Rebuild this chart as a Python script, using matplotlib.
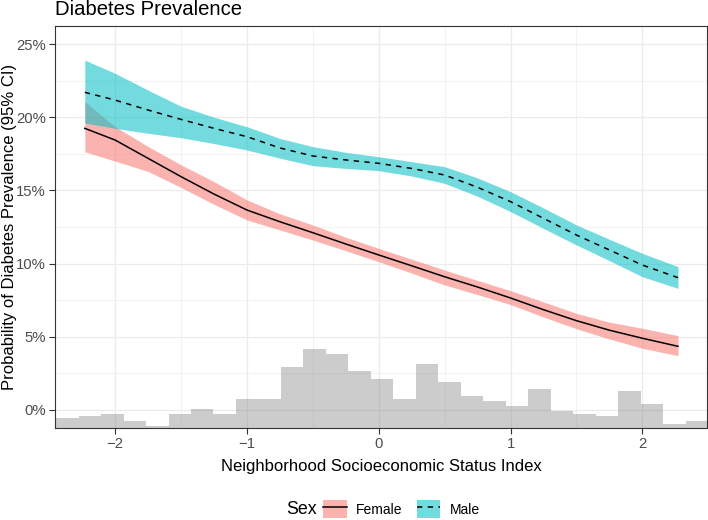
import numpy as np
import matplotlib
matplotlib.use("Agg")
import matplotlib.pyplot as plt
from matplotlib.patches import Patch
from matplotlib.lines import Line2D
from matplotlib.legend_handler import HandlerTuple
from matplotlib.ticker import FuncFormatter, MultipleLocator

plt.rcParams['font.family'] = ['Liberation Sans', 'DejaVu Sans']

# ---- data (percent) ----
x_pts = [-2.23, -2.0, -1.75, -1.5, -1.25, -1.0, -0.75, -0.5, -0.25, 0.0,
         0.25, 0.5, 0.75, 1.0, 1.25, 1.5, 1.75, 2.0, 2.27]

male_mean = [21.7, 21.17, 20.49, 19.85, 19.24, 18.67, 17.9, 17.35, 17.08, 16.85,
             16.5, 16.05, 15.21, 14.23, 13.09, 11.95, 10.93, 9.9, 9.04]
male_upper = [23.9, 23.0, 21.85, 20.75, 20.0, 19.35, 18.55, 17.99, 17.6, 17.3,
              16.96, 16.62, 15.85, 14.91, 13.8, 12.64, 11.66, 10.7, 9.79]
male_lower = [19.6, 19.24, 18.9, 18.6, 18.2, 17.76, 17.2, 16.69, 16.5, 16.35,
              15.98, 15.48, 14.6, 13.55, 12.4, 11.27, 10.2, 9.1, 8.31]

female_mean = [19.24, 18.44, 17.19, 15.94, 14.75, 13.66, 12.86, 12.11, 11.34, 10.59,
               9.85, 9.1, 8.4, 7.65, 6.85, 6.1, 5.45, 4.9, 4.35]
female_upper = [21.06, 19.35, 18.0, 16.75, 15.6, 14.35, 13.4, 12.64, 11.8, 11.04,
                10.3, 9.56, 8.85, 8.15, 7.38, 6.6, 6.0, 5.58, 5.08]
female_lower = [17.64, 17.0, 16.3, 15.2, 14.05, 12.98, 12.3, 11.61, 10.88, 10.13,
                9.35, 8.54, 7.88, 7.2, 6.35, 5.55, 4.85, 4.21, 3.71]

# histogram of the index (bar tops expressed on the y scale, %)
hist_first_edge = -2.448
hist_bin_width = 0.1706
hist_tops = [-0.57, -0.41, -0.25, -0.73, -1.09, -0.25, 0.07, -0.25, 0.75, 0.75,
             2.95, 4.16, 3.82, 2.64, 2.11, 0.75, 3.13, 1.93, 0.93, 0.61,
             0.25, 1.43, -0.09, -0.25, -0.41, 1.27, 0.41, -0.93, -0.75]

x_ticks = [-2, -1, 0, 1, 2]
y_ticks = [0, 5, 10, 15, 20, 25]

# ---- figure ----
W, H = 708, 520
fig = plt.figure(figsize=(W / 100, H / 100), dpi=100)
ax = fig.add_axes([55 / W, 1 - 428 / H, (707 - 55) / W, (428 - 26) / H])

xmin, xmax = -2.456, 2.49
ymin, ymax = -1.23, 26.23
ax.set_xlim(xmin, xmax)
ax.set_ylim(ymin, ymax)

# grid
ax.set_axisbelow(True)
ax.xaxis.set_minor_locator(MultipleLocator(0.5))
ax.yaxis.set_minor_locator(MultipleLocator(2.5))
ax.grid(which='major', color='#EBEBEB', linewidth=0.9)
ax.grid(which='minor', color='#EBEBEB', linewidth=0.45)
ax.tick_params(which='minor', length=0)

# histogram
nb = len(hist_tops)
lefts = hist_first_edge + hist_bin_width * np.arange(nb)
heights = np.array(hist_tops) - ymin
ax.bar(lefts, heights, width=hist_bin_width, bottom=ymin, align='edge',
       color='grey', alpha=0.4, linewidth=0, zorder=2)

female_col = '#F8766D'
male_col = '#00BFC4'
ax.fill_between(x_pts, female_lower, female_upper, color=female_col, alpha=0.55,
                linewidth=0, zorder=3)
ax.fill_between(x_pts, male_lower, male_upper, color=male_col, alpha=0.55,
                linewidth=0, zorder=3)
ax.plot(x_pts, female_mean, color='black', lw=1.1, zorder=4)
ax.plot(x_pts, male_mean, color='black', lw=1.1, ls=(0, (3.5, 3.5)), zorder=4)

ax.set_xticks(x_ticks)
ax.set_yticks(y_ticks)
ax.yaxis.set_major_formatter(FuncFormatter(lambda v, p: f"{v:.0f}%"))
ax.tick_params(which='major', length=4, width=0.8, color='#333333',
               labelcolor='#4D4D4D', labelsize=10.7, pad=2.5)
for s in ax.spines.values():
    s.set_color('#333333')
    s.set_linewidth(0.8)

ax.set_xlabel("Neighborhood Socioeconomic Status Index", fontsize=12,
              color='black', labelpad=6)
fig.text(10 / W, 1 - 227 / H, "Probability of Diabetes Prevalence (95% CI)",
         fontsize=12, rotation=90, ha='center', va='center', color='black')

fig.text(55 / W, 1 - 15 / H, "Diabetes Prevalence", fontsize=14.6,
         ha='left', va='baseline', color='black')

# legend
fs = 10
h_f = (Patch(facecolor=female_col, alpha=0.55, edgecolor='none'),
       Line2D([], [], color='black', lw=1.1))
h_m = (Patch(facecolor=male_col, alpha=0.55, edgecolor='none'),
       Line2D([], [], color='black', lw=1.1, ls=(0, (3.5, 3.5))))
leg = fig.legend([h_f, h_m], ["Female", "Male"], ncol=2, frameon=False,
                 fontsize=fs, loc='center left',
                 bbox_to_anchor=(323 / W, 1 - 509 / H),
                 handler_map={tuple: HandlerTuple(ndivide=1, pad=0)},
                 handlelength=1.7, handleheight=1.7, handletextpad=0.7,
                 columnspacing=1.0, borderpad=0, borderaxespad=0)
fig.text(286 / W, 1 - 509 / H, "Sex", fontsize=12.8, ha='left', va='center')

fig.savefig("out.png", dpi=100)
